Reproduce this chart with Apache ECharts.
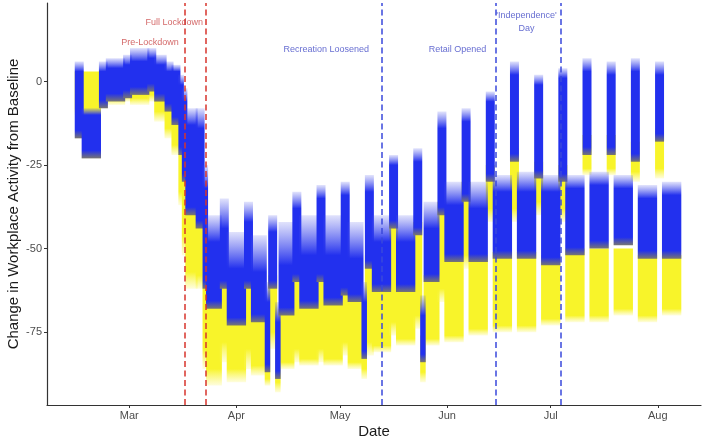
<!DOCTYPE html>
<html>
<head>
<meta charset="utf-8">
<script src="https://cdn.jsdelivr.net/npm/echarts@6/dist/echarts.min.js"></script>
<style>
  html, body { margin: 0; padding: 0; background: #fff; }
  #chart { width: 702px; height: 440px; }
</style>
</head>
<body>
<div id="chart"></div>
<script>
// each segment = a run of days (weekday block, weekend, holiday)
const segStart = ['2020-02-15','2020-02-17','2020-02-22','2020-02-24','2020-02-29','2020-03-02','2020-03-07','2020-03-09','2020-03-12','2020-03-14',
  '2020-03-16','2020-03-17','2020-03-18','2020-03-21','2020-03-23','2020-03-24','2020-03-28','2020-03-30','2020-04-04','2020-04-06',
  '2020-04-10','2020-04-11','2020-04-13','2020-04-14','2020-04-18','2020-04-20','2020-04-25','2020-04-27','2020-05-02','2020-05-04',
  '2020-05-08','2020-05-09','2020-05-11','2020-05-16','2020-05-18','2020-05-23','2020-05-25','2020-05-26','2020-05-30','2020-06-01',
  '2020-06-06','2020-06-08','2020-06-13','2020-06-15','2020-06-20','2020-06-22','2020-06-27','2020-06-29','2020-07-04','2020-07-06',
  '2020-07-11','2020-07-13','2020-07-18','2020-07-20','2020-07-25','2020-07-27','2020-08-01','2020-08-03']
const segEnd = ['2020-02-16','2020-02-21','2020-02-23','2020-02-28','2020-03-01','2020-03-06','2020-03-08','2020-03-11','2020-03-13','2020-03-15',
  '2020-03-16','2020-03-17','2020-03-20','2020-03-22','2020-03-23','2020-03-27','2020-03-29','2020-04-03','2020-04-05','2020-04-09',
  '2020-04-10','2020-04-12','2020-04-13','2020-04-17','2020-04-19','2020-04-24','2020-04-26','2020-05-01','2020-05-03','2020-05-07',
  '2020-05-08','2020-05-10','2020-05-15','2020-05-17','2020-05-22','2020-05-24','2020-05-25','2020-05-29','2020-05-31','2020-06-05',
  '2020-06-07','2020-06-12','2020-06-14','2020-06-19','2020-06-21','2020-06-26','2020-06-28','2020-07-03','2020-07-05','2020-07-10',
  '2020-07-12','2020-07-17','2020-07-19','2020-07-24','2020-07-26','2020-07-31','2020-08-02','2020-08-07']

// blue group: dense low, dense high, top of the sparse points
const blueLow = [-17,-23,-8,-6,-5,-4,-3,-6,-9,-13, -22,-30,-40,-44,-62,-68,-62,-73,-62,-72,
  -87,-62,-89,-70,-60,-68,-60,-67,-64,-66, -83,-56,-63,-44,-63,-46,-84,-60,-40,-54,
  -36,-54,-30,-53,-24,-53,-29,-55,-30,-52, -22,-50,-22,-49,-24,-53,-18,-53]
const blueHigh = [3,-10,3,4,5,6,7,5,3,3, -1,-6,-13,-14,-32,-48,-44,-56,-42,-57,
  -66,-45,-72,-55,-38,-52,-35,-52,-34,-53, -66,-33,-48,-25,-48,-24,-70,-44,-14,-37,
  -12,-38,-6,-33,2,-33,-1,-33,1,-32, 3,-31,2,-32,3,-35,2,-34]
const blueTop = [6,-8,6,7,8,10,10,8,6,5, 2,-2,-8,-8,-25,-40,-35,-45,-36,-46,
  -60,-40,-66,-42,-33,-40,-31,-40,-30,-42, -60,-28,-40,-22,-40,-20,-64,-36,-9,-30,
  -8,-30,-3,-28,6,-27,2,-28,4,-28, 7,-27,6,-28,7,-31,6,-30]

// yellow group: bottom of the sparse points, dense low, dense high
const yellowBottom = [-10,-12,-8,-7,-6,-7,-6,-12,-17,-22, -37,-52,-62,-62,-86,-91,-84,-90,-86,-88,
  -91,-80,-93,-86,-84,-85,-84,-85,-82,-86, -89,-82,-81,-76,-79,-74,-90,-79,-66,-78,
  -56,-76,-42,-75,-42,-75,-40,-73,-42,-72, -28,-72,-28,-70,-30,-72,-29,-70]
const yellowLow = [-8,-10,-6,-5,-4,-5,-4,-9,-14,-19, -33,-46,-57,-58,-80,-86,-78,-86,-80,-85,
  -89,-75,-90,-84,-80,-83,-80,-83,-78,-84, -86,-78,-79,-72,-77,-70,-87,-77,-62,-76,
  -52,-74,-38,-73,-38,-73,-36,-71,-38,-70, -26,-70,-26,-68,-27,-70,-26,-68]
const yellowHigh = [3,3,3,4,4,4,5,2,-2,-5, -12,-20,-28,-32,-48,-64,-56,-70,-58,-70,
  -72,-58,-78,-68,-55,-66,-55,-65,-60,-66, -74,-52,-62,-42,-62,-42,-76,-58,-36,-52,
  -30,-52,-25,-51,-20,-51,-24,-52,-25,-50, -16,-50,-16,-50,-18,-52,-14,-52]

const monthTicks = ['2020-03-01','2020-04-01','2020-05-01','2020-06-01','2020-07-01','2020-08-01']
const monthLabels = ['Mar','Apr','May','Jun','Jul','Aug']
const yTicks = [0, -25, -50, -75]

const eventDates = ['2020-03-17','2020-03-23','2020-05-13','2020-06-15','2020-07-04']
const eventGroup = ['lockdown','lockdown','easing','easing','easing']

const noteText = ['Full Lockdown','Pre-Lockdown','Recreation Loosened','Retail Opened',"'Independence'\nDay"]
const noteDate = ['2020-03-14','2020-03-07','2020-04-27','2020-06-04','2020-06-24']
const noteValue = [17.7, 11.7, 9.7, 9.7, 17.7]
const noteGroup = ['lockdown','lockdown','easing','easing','easing']

const DAY = 86400000
const HALF = 0.8
const BLUE = 'rgb(34,48,238)'
const YELLOW = 'rgb(248,244,42)'
const groupColor = { lockdown: '#d8342c', easing: '#3a48dc' }
const groupText = { lockdown: '#c94343', easing: '#4049c6' }

// x axis works in days counted from 1 March 2020
const mar1 = Date.parse('2020-03-01')
const day = s => Math.round((Date.parse(s) - mar1) / DAY)

const tickDays = monthTicks.map(day)
const labelFor = {}
tickDays.forEach((d, i) => { labelFor[d] = monthLabels[i] })

const blueData = segStart.map((s, i) => [day(s), day(segEnd[i]), blueLow[i], blueHigh[i], blueTop[i]])
const yellowData = segStart.map((s, i) => [day(s), day(segEnd[i]), yellowBottom[i], yellowLow[i], yellowHigh[i]])

const clamp = v => Math.max(0, Math.min(1, v))

const renderBlue = (params, api) => {
  const x0 = api.coord([api.value(0) - HALF, 0])[0]
  const x1 = api.coord([api.value(1) + HALF, 0])[0]
  const yLo = api.coord([0, api.value(2)])[1]
  const yHi = api.coord([0, api.value(3)])[1]
  const yTop = api.coord([0, api.value(4)])[1]
  const h = yLo - yTop
  const f = clamp((yHi - yTop) / h)
  const edge = clamp(1 - Math.min(0.25, 8 / h))
  return {
    type: 'rect',
    shape: { x: x0, y: yTop, width: x1 - x0, height: h },
    style: {
      fill: new echarts.graphic.LinearGradient(0, 0, 0, 1, [
        { offset: 0, color: 'rgba(70,80,235,0.16)' },
        { offset: f, color: BLUE },
        { offset: Math.max(f, edge), color: BLUE },
        { offset: 1, color: 'rgb(120,118,112)' }
      ])
    }
  }
}

const renderYellow = (params, api) => {
  const x0 = api.coord([api.value(0) - HALF, 0])[0]
  const x1 = api.coord([api.value(1) + HALF, 0])[0]
  const yBot = api.coord([0, api.value(2)])[1]
  const yLo = api.coord([0, api.value(3)])[1]
  const yHi = api.coord([0, api.value(4)])[1]
  const h = yBot - yHi
  const f = clamp((yLo - yHi) / h)
  return {
    type: 'rect',
    shape: { x: x0, y: yHi, width: x1 - x0, height: h },
    style: {
      fill: new echarts.graphic.LinearGradient(0, 0, 0, 1, [
        { offset: 0, color: YELLOW },
        { offset: f, color: YELLOW },
        { offset: 1, color: 'rgba(250,246,90,0.2)' }
      ])
    }
  }
}

const chart = echarts.init(document.getElementById('chart'))

chart.setOption({
  animation: false,
  backgroundColor: '#fff',
  textStyle: { fontFamily: 'Liberation Sans, Arial, sans-serif' },
  grid: { left: 47, right: 1, top: 3, bottom: 35, outerBoundsMode: 'none' },
  xAxis: {
    type: 'value',
    min: -23.83,
    max: 165.5,
    name: 'Date',
    nameLocation: 'middle',
    nameGap: 19,
    nameMoveOverlap: false,
    nameTextStyle: { fontSize: 15, color: '#1a1a1a' },
    axisLine: { onZero: false, lineStyle: { color: '#333', width: 1.2 } },
    axisTick: { length: 3, lineStyle: { color: '#333' }, customValues: tickDays },
    axisLabel: {
      fontSize: 11, color: '#4d4d4d', margin: 5,
      customValues: tickDays,
      formatter: v => labelFor[Math.round(v)] || ''
    },
    splitLine: { show: false }
  },
  yAxis: {
    type: 'value',
    min: -96.8,
    max: 23.5,
    name: 'Change in Workplace Activity from Baseline',
    nameLocation: 'middle',
    nameGap: 26,
    nameMoveOverlap: false,
    nameTextStyle: { fontSize: 15, color: '#1a1a1a' },
    axisLine: { show: true, onZero: false, lineStyle: { color: '#333', width: 1.2 } },
    axisTick: { show: true, length: 3, lineStyle: { color: '#333' }, customValues: yTicks },
    axisLabel: { fontSize: 11, color: '#4d4d4d', margin: 5, customValues: yTicks },
    splitLine: { show: false }
  },
  series: [
    {
      name: 'yellow',
      type: 'custom',
      renderItem: renderYellow,
      encode: { x: [0, 1], y: [2, 3, 4] },
      data: yellowData,
      clip: true,
      silent: true
    },
    {
      name: 'blue',
      type: 'custom',
      renderItem: renderBlue,
      encode: { x: [0, 1], y: [2, 3, 4] },
      data: blueData,
      clip: true,
      silent: true
    },
    {
      name: 'events',
      type: 'scatter',
      symbolSize: 0,
      silent: true,
      z: 5,
      data: noteText.map((txt, i) => ({
        value: [day(noteDate[i]), noteValue[i]],
        label: {
          show: true,
          position: 'inside',
          formatter: txt,
          fontSize: 9,
          lineHeight: 13,
          align: 'center',
          verticalAlign: 'middle',
          color: groupText[noteGroup[i]]
        }
      })),
      markLine: {
        silent: true,
        symbol: 'none',
        label: { show: false },
        data: eventDates.map((d, i) => ({
          xAxis: day(d),
          lineStyle: { color: groupColor[eventGroup[i]], type: [6, 3.5], width: 1.5, opacity: 1 }
        }))
      }
    }
  ]
})
</script>
</body>
</html>
